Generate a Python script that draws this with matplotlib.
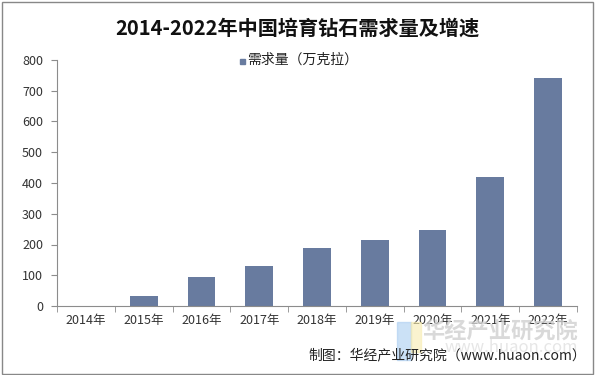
import matplotlib.pyplot as plt
from matplotlib.patches import Rectangle

plt.rcParams['font.family'] = ['Noto Sans CJK SC', 'DejaVu Sans']

years = ['2014年', '2015年', '2016年', '2017年', '2018年', '2019年', '2020年', '2021年', '2022年']
demand = [0, 33, 94, 130, 189, 215, 247, 420, 741]
series_name = '需求量（万克拉）'
title = '2014-2022年中国培育钻石需求量及增速'
source = '制图：华经产业研究院（www.huaon.com）'

bar_color = '#687b9f'
axis_color = '#8c8c8c'

fig = plt.figure(figsize=(5.95, 3.75), dpi=100)
ax = fig.add_axes([57/595, 1 - 306/375, 520/595, 246/375])

x = list(range(len(years)))
ax.bar(x, demand, width=0.48, color=bar_color, zorder=2)

ax.set_xlim(-0.5, len(years) - 0.5)
ax.set_ylim(0, 800)
ax.set_yticks(range(0, 801, 100))
ax.set_xticks(x)
ax.set_xticklabels(years, fontsize=9, color='#333333')
ax.set_xticks([i - 0.5 for i in range(len(years) + 1)], minor=True)
ax.tick_params(axis='x', which='major', length=0, pad=6)
ax.tick_params(axis='x', which='minor', length=4, color=axis_color)
ax.tick_params(axis='y', length=4, color=axis_color, labelsize=9, labelcolor='#333333', pad=6)
for s in ['top', 'right']:
    ax.spines[s].set_visible(False)
for s in ['left', 'bottom']:
    ax.spines[s].set_color(axis_color)
    ax.spines[s].set_linewidth(0.8)

# legend at the top
fig.patches.append(Rectangle((240/595, 1 - 64/375), 5/595, 5/375,
                             transform=fig.transFigure, color=bar_color))
fig.text(247/595, 1 - 60/375, series_name, fontsize=10, va='center', ha='left', color='#222222')

fig.text(0.5, 1 - 28/375, title, fontsize=14.5, fontweight='bold', ha='center', va='center',
         color='#111111')

# faint watermark (logo + name)
fig.patches.append(Rectangle((397/595, 1 - 360/375), 14/595, 38/375,
                             transform=fig.transFigure, color='#a9cdf0', alpha=0.6))
fig.patches.append(Rectangle((411/595, 1 - 352/375), 10/595, 30/375,
                             transform=fig.transFigure, color='#f7ecb0', alpha=0.6))
fig.text(578/595, 1 - 331/375, '华经产业研究院', fontsize=16, ha='right', va='center',
         color='#d0d0d0', alpha=0.8, fontweight='bold')
fig.text(578/595, 1 - 347/375, 'www.huaon.com', fontsize=12, ha='right', va='center',
         color='#e0e0e0', alpha=0.8)

fig.text(586/595, 1 - 355/375, source, fontsize=10, ha='right', va='center', color='#222222')

# outer frame
fig.patches.append(Rectangle((0.003, 0.004), 0.994, 0.992, transform=fig.transFigure,
                             fill=False, edgecolor='#888888', linewidth=1))

fig.savefig('out.png', dpi=100)
